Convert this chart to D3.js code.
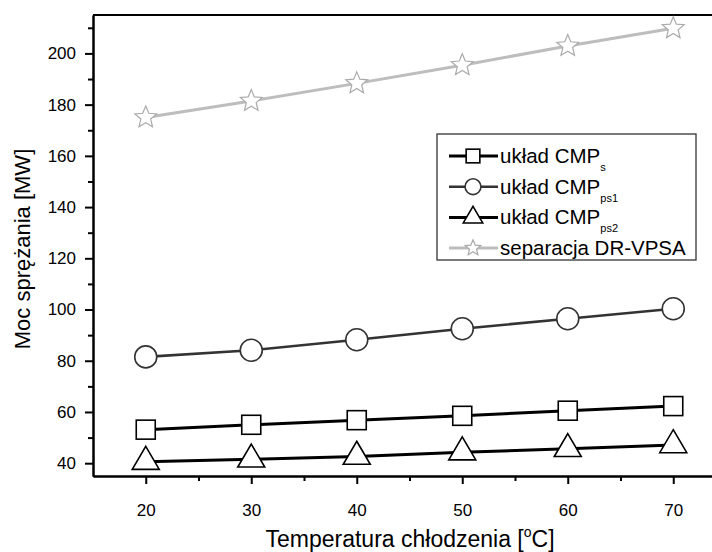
<!DOCTYPE html>
<html>
<head>
<meta charset="utf-8">
<script src="https://cdn.jsdelivr.net/npm/d3@7"></script>
<style>
    body { margin: 0; background: #fff; }
    svg { display: block; font-family: "Liberation Sans", Arial, sans-serif; }
</style>
</head>
<body>
<div id="container"></div>
<script>
let w = 712;
let h = 552;

// DATA
let temps = [20, 30, 40, 50, 60, 70];
let cmpS = [53.1, 55.0, 56.8, 58.5, 60.5, 62.3];
let cmpPs1 = [81.5, 84.1, 88.2, 92.5, 96.4, 100.3];
let cmpPs2 = [40.6, 41.5, 42.6, 44.3, 45.6, 47.1];
let drVpsa = [175.0, 181.4, 188.3, 195.4, 202.9, 209.8];
let xTicks = [20, 30, 40, 50, 60, 70];
let yTicks = [40, 60, 80, 100, 120, 140, 160, 180, 200];
let legendNames = ["układ CMP", "układ CMP", "układ CMP", "separacja DR-VPSA"];
let legendSubs = ["s", "ps1", "ps2", ""];

let series = [
    {values: cmpPs1, color: "#333", width: 2.6, marker: "circle"},
    {values: drVpsa, color: "#bdbdbd", width: 3, marker: "star"},
    {values: cmpS, color: "#000", width: 3, marker: "square"},
    {values: cmpPs2, color: "#000", width: 3, marker: "triangle"}
];
let legendOrder = [2, 0, 3, 1];

let x = d3.scaleLinear().domain([15, 75]).range([93, 726]);
let y = d3.scaleLinear().domain([35, 215]).range([476, 15]);

let viz = d3.select("#container").append("svg")
    .attr("width", w)
    .attr("height", h);

// marker shapes
function starPath(r) {
    let pts = [];
    for (let i = 0; i < 10; i++) {
        let rr = i % 2 === 0 ? r : r * 0.45;
        let a = -Math.PI / 2 + i * Math.PI / 5;
        pts.push([rr * Math.cos(a), rr * Math.sin(a)]);
    }
    return "M" + pts.map(p => p.join(",")).join("L") + "Z";
}

function drawMarker(g, type, s) {
    if (type === "circle") {
        g.append("circle").attr("r", 11 * s)
            .attr("fill", "#fff").attr("stroke", "#333").attr("stroke-width", 1.6);
    } else if (type === "square") {
        g.append("rect").attr("x", -9.5 * s).attr("y", -9.5 * s)
            .attr("width", 19 * s).attr("height", 19 * s)
            .attr("fill", "#fff").attr("stroke", "#000").attr("stroke-width", 1.6);
    } else if (type === "triangle") {
        let hw = 13.5 * s, top = -15.3 * s, bot = 7.7 * s;
        g.append("path").attr("d", `M0,${top}L${hw},${bot}L${-hw},${bot}Z`)
            .attr("fill", "#fff").attr("stroke", "#000").attr("stroke-width", 1.6);
    } else if (type === "star") {
        g.append("path").attr("d", starPath(11.5 * s))
            .attr("fill", "#fff").attr("stroke", "#aaa").attr("stroke-width", 1.2);
    }
}

// frame top line
viz.append("line")
    .attr("x1", x(15)).attr("x2", x(75))
    .attr("y1", y(215)).attr("y2", y(215))
    .attr("stroke", "#000").attr("stroke-width", 2);

// axes
let xAxis = viz.append("g")
    .attr("transform", `translate(0,${y(35)})`)
    .call(d3.axisBottom(x).tickValues(xTicks).tickSize(8).tickPadding(20).tickSizeOuter(0));
let xMinor = viz.append("g")
    .attr("transform", `translate(0,${y(35)})`)
    .call(d3.axisBottom(x).tickValues([25, 35, 45, 55, 65]).tickSize(5).tickFormat("").tickSizeOuter(0));

let yAxis = viz.append("g")
    .attr("transform", `translate(${x(15)},0)`)
    .call(d3.axisLeft(y).tickValues(yTicks).tickSize(8).tickPadding(9).tickSizeOuter(0));
let yMinor = viz.append("g")
    .attr("transform", `translate(${x(15)},0)`)
    .call(d3.axisLeft(y).tickValues([50, 70, 90, 110, 130, 150, 170, 190, 210]).tickSize(5).tickFormat("").tickSizeOuter(0));

[xAxis, xMinor, yAxis, yMinor].forEach(a => {
    a.select(".domain").attr("stroke", "#000").attr("stroke-width", 2);
    a.selectAll(".tick line").attr("stroke", "#000").attr("stroke-width", 2);
    a.selectAll("text").attr("font-size", 17).attr("fill", "#000")
        .attr("font-family", "'Liberation Sans', Arial, sans-serif");
});

// lines and markers
let line = d3.line().x((d, i) => x(temps[i])).y(d => y(d));

series.forEach(s => {
    viz.append("path")
        .attr("d", line(s.values))
        .attr("fill", "none")
        .attr("stroke", s.color)
        .attr("stroke-width", s.width);
});
series.forEach(s => {
    viz.selectAll(null).data(s.values).enter()
        .append("g")
        .attr("transform", (d, i) => `translate(${x(temps[i])},${y(d)})`)
        .each(function () { drawMarker(d3.select(this), s.marker, 1); });
});

// legend
let legend = viz.append("g");
legend.append("rect")
    .attr("x", 437).attr("y", 134)
    .attr("width", 259).attr("height", 126)
    .attr("fill", "#fff").attr("stroke", "#333").attr("stroke-width", 1.3);

legendOrder.forEach((si, i) => {
    let s = series[si];
    let ry = 156 + i * 30.7;
    let row = legend.append("g").attr("transform", `translate(0,${ry})`);
    row.append("line")
        .attr("x1", 449).attr("x2", 498)
        .attr("y1", 0).attr("y2", 0)
        .attr("stroke", s.color).attr("stroke-width", s.width);
    let m = row.append("g").attr("transform", "translate(473,0)");
    drawMarker(m, s.marker, 0.72);
    let t = row.append("text")
        .attr("x", 500).attr("y", 7)
        .attr("font-size", 20.5)
        .attr("fill", "#000")
        .text(legendNames[i]);
    if (legendSubs[i]) {
        t.append("tspan")
            .attr("dy", 8)
            .attr("font-size", 11)
            .text(legendSubs[i]);
    }
});

// axis titles
viz.append("text")
    .attr("x", 410).attr("y", 547)
    .attr("text-anchor", "middle")
    .attr("font-size", 23)
    .attr("fill", "#000")
    .call(t => {
        t.append("tspan").text("Temperatura chłodzenia [");
        t.append("tspan").attr("dy", -10).attr("font-size", 14).text("o");
        t.append("tspan").attr("dy", 10).text("C]");
    });

viz.append("text")
    .attr("transform", "translate(30,249) rotate(-90)")
    .attr("text-anchor", "middle")
    .attr("font-size", 22)
    .attr("fill", "#000")
    .text("Moc sprężania [MW]");
</script>
</body>
</html>
